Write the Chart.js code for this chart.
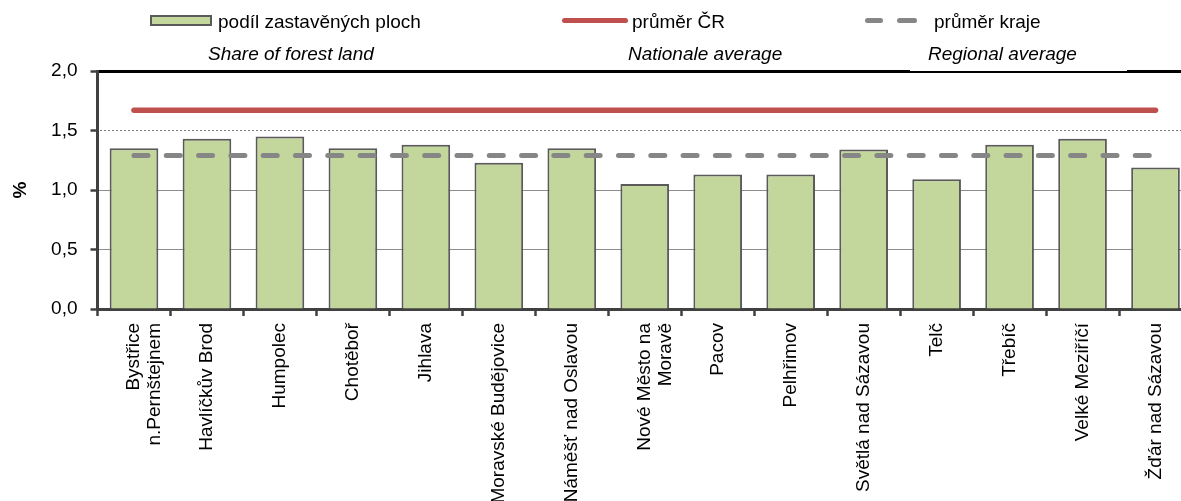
<!DOCTYPE html>
<html>
<head>
<meta charset="utf-8">
<script src="https://cdn.jsdelivr.net/npm/chart.js@4.4.0/dist/chart.umd.min.js"></script>
<style>
  html, body { margin: 0; padding: 0; overflow: hidden; background: #fff; }
  #wrap { position: relative; width: 1192px; height: 501px; }
  .lg { position: absolute; font-family: 'Liberation Sans', Arial, sans-serif; font-size: 19px; line-height: 22px; color: #000; white-space: nowrap; }
  .it { font-style: italic; }
  .mk { position: absolute; }
</style>
</head>
<body>
<div id="wrap">
  <canvas id="chart"></canvas>
</div>
<script>
const categories = [
  ['Bystřice', 'n.Pernštejnem'], 'Havlíčkův Brod', 'Humpolec', 'Chotěboř', 'Jihlava',
  'Moravské Budějovice', 'Náměšť nad Oslavou', ['Nové Město na', 'Moravě'], 'Pacov', 'Pelhřimov',
  'Světlá nad Sázavou', 'Telč', 'Třebíč', 'Velké Meziříčí', 'Žďár nad Sázavou'
];
const builtUpShare = [1.35, 1.43, 1.45, 1.35, 1.38, 1.23, 1.35, 1.05, 1.13, 1.13, 1.34, 1.09, 1.38, 1.43, 1.19];
const nationalAverage = [1.67, 1.67, 1.67, 1.67, 1.67, 1.67, 1.67, 1.67, 1.67, 1.67, 1.67, 1.67, 1.67, 1.67, 1.67];
const regionalAverage = [1.29, 1.29, 1.29, 1.29, 1.29, 1.29, 1.29, 1.29, 1.29, 1.29, 1.29, 1.29, 1.29, 1.29, 1.29];
const yTickLabels = ['0,0', '0,5', '1,0', '1,5', '2,0'];
const seriesNames = ['podíl zastavěných ploch', 'průměr ČR', 'průměr kraje'];
const seriesNamesEn = ['Share of forest land', 'Nationale average', 'Regional average'];

const FONT = "'Liberation Sans', Arial, sans-serif";

// dotted pattern for the 1,5 gridline
const dotCanvas = document.createElement('canvas');
dotCanvas.width = 4; dotCanvas.height = 1;
const dctx = dotCanvas.getContext('2d');
dctx.fillStyle = '#7a7a7a';
dctx.fillRect(0, 0, 2, 1);
const dotPattern = dctx.createPattern(dotCanvas, 'repeat');

// legend (html, placed like the original)
const wrap = document.getElementById('wrap');
function addText(txt, left, top, italic) {
  const d = document.createElement('div');
  d.className = 'lg' + (italic ? ' it' : '');
  d.style.left = left + 'px';
  d.style.top = top + 'px';
  d.textContent = txt;
  wrap.appendChild(d);
  return d;
}
function addMark(left, top, w, h, css) {
  const d = document.createElement('div');
  d.className = 'mk';
  d.style.left = left + 'px'; d.style.top = top + 'px';
  d.style.width = w + 'px'; d.style.height = h + 'px';
  Object.assign(d.style, css);
  wrap.appendChild(d);
}
addMark(150, 15, 62, 11, { background: '#c3d69b', border: '2px solid #5a5a5a', boxSizing: 'border-box' });
addText(seriesNames[0], 218, 10.5);
addMark(562, 18, 66, 5, { background: '#c0504d', borderRadius: '3px' });
addText(seriesNames[1], 632, 10.5);
addMark(865, 18, 18, 5, { background: '#868686', borderRadius: '3px' });
addMark(897, 18, 20, 5, { background: '#868686', borderRadius: '3px' });
addText(seriesNames[2], 934, 10.5);
addText(seriesNamesEn[0], 208, 42.5, true);
addText(seriesNamesEn[1], 628, 42.5, true);
const reg = addText(seriesNamesEn[2], 910, 36, true);
reg.style.background = '#fff';
reg.style.width = '217px';
reg.style.height = '34.5px';
reg.style.paddingLeft = '18px';
reg.style.boxSizing = 'border-box';
reg.style.paddingTop = '6.5px';
reg.style.zIndex = 2;

const ctx = document.getElementById('chart').getContext('2d');
const chart = new Chart(ctx, {
  type: 'bar',
  data: {
    labels: categories,
    datasets: [{
      label: seriesNames[0],
      data: builtUpShare,
      backgroundColor: '#c3d69b',
      borderColor: '#5a5a5a',
      borderWidth: 2,
      barPercentage: 0.667,
      categoryPercentage: 1,
      order: 3
    }, {
      type: 'line',
      label: seriesNames[1],
      data: nationalAverage,
      borderColor: '#c0504d',
      borderWidth: 5.5,
      borderCapStyle: 'round',
      pointRadius: 0,
      order: 1
    }, {
      type: 'line',
      label: seriesNames[2],
      data: regionalAverage,
      borderColor: '#868686',
      borderWidth: 5,
      borderCapStyle: 'round',
      borderDash: [14, 18.3],
      pointRadius: 0,
      order: 2
    }]
  },
  options: {
    responsive: true,
    maintainAspectRatio: false,
    animation: false,
    layout: { padding: { top: 71, left: 0, right: 0, bottom: 0 } },
    plugins: {
      legend: { display: false },
      tooltip: { enabled: false }
    },
    scales: {
      x: {
        afterFit: s => { s.height = 192; },
        border: { color: '#404040', width: 3 },
        grid: {
          drawOnChartArea: false,
          tickLength: 7,
          tickColor: '#404040',
          tickWidth: 2.5
        },
        ticks: {
          autoSkip: false,
          minRotation: 90,
          maxRotation: 90,
          padding: 7,
          color: '#000',
          font: { family: FONT, size: 19, lineHeight: 1.12 }
        }
      },
      y: {
        min: 0,
        max: 2,
        afterFit: s => { s.width = 97.5; },
        border: { color: '#404040', width: 3 },
        grid: {
          color: c => !c.tick ? '#8c8c8c' : c.tick.value === 2 ? '#000' : c.tick.value === 1.5 ? dotPattern : '#8c8c8c',
          lineWidth: c => c.tick && c.tick.value === 2 ? 3 : 1,
          tickLength: 7,
          tickColor: '#404040',
          tickWidth: 2.5
        },
        ticks: {
          stepSize: 0.5,
          padding: 13,
          color: '#000',
          font: { family: FONT, size: 19 },
          callback: (v, i) => yTickLabels[i]
        },
        title: {
          display: true,
          text: '%',
          color: '#000',
          font: { family: FONT, size: 19, weight: 'bold' },
          padding: { top: 9, bottom: 0 }
        }
      }
    }
  }
});
</script>
</body>
</html>
